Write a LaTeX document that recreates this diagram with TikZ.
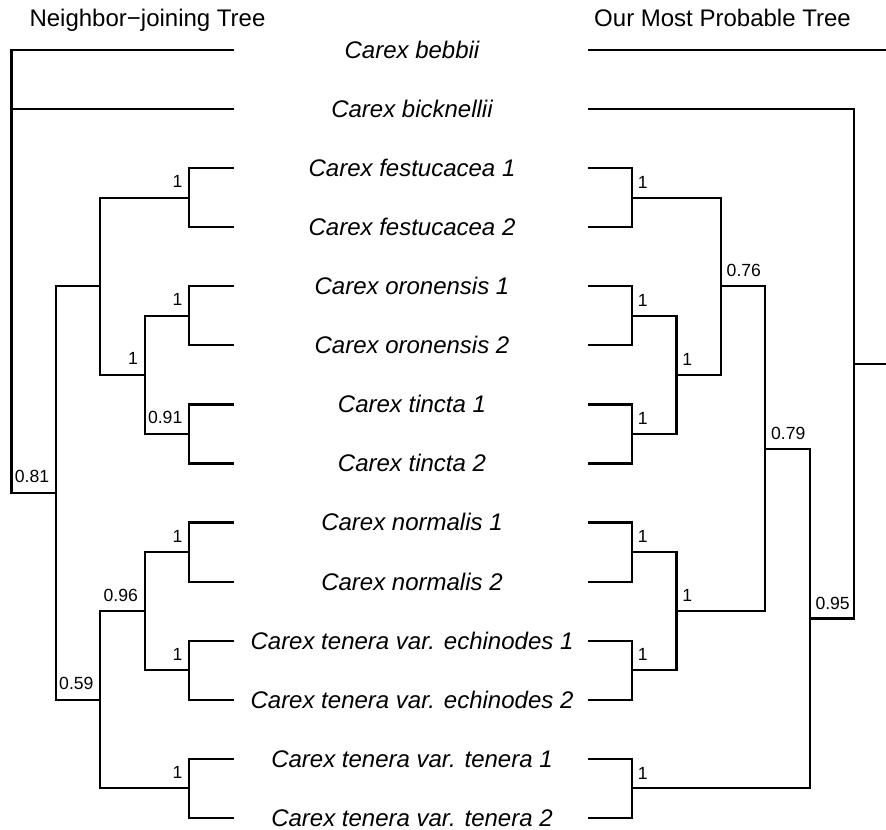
\documentclass[tikz,border=0pt]{standalone}
\usepackage{fontspec}
\setmainfont{Liberation Sans}
\usepackage{tikz}
\usetikzlibrary{calc,positioning}
\newcommand{\rowy}[1]{50+59.07*#1}
\tikzset{%
	branch/.style = {line width=1.1pt},
	taxon/.style  = {font=\fontsize{12}{14}\selectfont\itshape, anchor=base, inner sep=0pt, yshift=-4.2pt},
	title/.style  = {font=\fontsize{12}{14}\selectfont, anchor=base, inner sep=0pt},
	suppl/.style  = {font=\fontsize{8.8}{10}\selectfont, anchor=south east, inner xsep=2.8pt, inner ysep=0pt, yshift=4.4pt},
	suppr/.style  = {font=\fontsize{8.8}{10}\selectfont, anchor=south west, inner xsep=2.4pt, inner ysep=0pt, yshift=4.1pt},
}

\begin{document}
\begin{tikzpicture}[x=0.5pt,y=-0.5pt]
	\useasboundingbox (0,0) rectangle (886,829);
	\node[title] (njtitle) at (147.5,27) {Neighbor−joining Tree};
	\node[title] (mptitle) at (722.5,27) {Our Most Probable Tree};

	% taxa in the middle, branch tips on both sides
	\foreach \taxname [count=\i from 0] in {Carex bebbii, Carex bicknellii, Carex festucacea 1, Carex festucacea 2, Carex oronensis 1, Carex oronensis 2, Carex tincta 1, Carex tincta 2, Carex normalis 1, Carex normalis 2, Carex tenera var. echinodes 1, Carex tenera var. echinodes 2, Carex tenera var. tenera 1, Carex tenera var. tenera 2}{
		\node[taxon] (t\i) at (412,{\rowy{\i}}) {\taxname};
		\coordinate (L\i) at (234,{\rowy{\i}});
		\coordinate (R\i) at (588,{\rowy{\i}});
	}

	\begin{scope}[branch]
	% neighbor-joining tree (left)
	\coordinate (nF) at (189,{\rowy{2.5}});
	\coordinate (nO) at (189,{\rowy{4.5}});
	\coordinate (nT) at (189,{\rowy{6.5}});
	\coordinate (nN) at (189,{\rowy{8.5}});
	\coordinate (nE) at (189,{\rowy{10.5}});
	\coordinate (nV) at (189,{\rowy{12.5}});
	\coordinate (nOT) at (144.6,{\rowy{5.5}});
	\coordinate (nNE) at (144.6,{\rowy{9.5}});
	\coordinate (nFOT) at (100.2,{\rowy{4}});
	\coordinate (nNEV) at (100.2,{\rowy{11}});
	\coordinate (nIn) at (55.8,{\rowy{7.5}});
	\coordinate (nRoot) at (11.4,{\rowy{0}});
	\draw (L2) -| (nF) |- (L3);
	\draw (L4) -| (nO) |- (L5);
	\draw (L6) -| (nT) |- (L7);
	\draw (L8) -| (nN) |- (L9);
	\draw (L10) -| (nE) |- (L11);
	\draw (L12) -| (nV) |- (L13);
	\draw (nO) -| (nOT) |- (nT);
	\draw (nN) -| (nNE) |- (nE);
	\draw (nF) -| (nFOT) |- (nOT);
	\draw (nNE) -| (nNEV) |- (nV);
	\draw (nFOT) -| (nIn) |- (nNEV);
	\draw (L0) -| (nRoot) |- (nIn);
	\draw (L1) -- (L1 -| nRoot);
	\node[suppl] (sF) at (nF) {1};
	\node[suppl] (sO) at (nO) {1};
	\node[suppl] (sT) at (nT) {0.91};
	\node[suppl] (sN) at (nN) {1};
	\node[suppl] (sE) at (nE) {1};
	\node[suppl] (sV) at (nV) {1};
	\node[suppl] (sOT) at (nOT) {1};
	\node[suppl] (sNE) at (nNE) {0.96};
	\node[suppl] (sNEV) at (nNEV) {0.59};
	\node[suppl] (sIn) at (nIn) {0.81};

	% most probable tree (right), root lies beyond the edge
	\coordinate (mF) at (632,{\rowy{2.5}});
	\coordinate (mO) at (632,{\rowy{4.5}});
	\coordinate (mT) at (632,{\rowy{6.5}});
	\coordinate (mN) at (632,{\rowy{8.5}});
	\coordinate (mE) at (632,{\rowy{10.5}});
	\coordinate (mV) at (632,{\rowy{12.5}});
	\coordinate (mOT) at (676.4,{\rowy{5.5}});
	\coordinate (mNE) at (676.4,{\rowy{9.5}});
	\coordinate (mFOT) at (720.8,{\rowy{4}});
	\coordinate (mA) at (765.2,{\rowy{6.75}});
	\coordinate (mB) at (809.6,{\rowy{9.625}});
	\coordinate (mC) at (854,{\rowy{5.3125}});
	\coordinate (mEdge) at (886,0);
	\draw (R2) -| (mF) |- (R3);
	\draw (R4) -| (mO) |- (R5);
	\draw (R6) -| (mT) |- (R7);
	\draw (R8) -| (mN) |- (R9);
	\draw (R10) -| (mE) |- (R11);
	\draw (R12) -| (mV) |- (R13);
	\draw (mO) -| (mOT) |- (mT);
	\draw (mN) -| (mNE) |- (mE);
	\draw (mF) -| (mFOT) |- (mOT);
	\draw (mFOT) -| (mA) |- (mNE);
	\draw (mA) -| (mB) |- (mV);
	\draw (R1) -| (mC) |- (mB);
	\draw (R0) -- (R0 -| mEdge);
	\draw (mC) -- (mC -| mEdge);
	\node[suppr] (pF) at (mF) {1};
	\node[suppr] (pO) at (mO) {1};
	\node[suppr] (pT) at (mT) {1};
	\node[suppr] (pN) at (mN) {1};
	\node[suppr] (pE) at (mE) {1};
	\node[suppr] (pV) at (mV) {1};
	\node[suppr] (pOT) at (mOT) {1};
	\node[suppr] (pNE) at (mNE) {1};
	\node[suppr] (pFOT) at (mFOT) {0.76};
	\node[suppr] (pA) at (mA) {0.79};
	\node[suppr] (pB) at (mB) {0.95};
	\end{scope}
\end{tikzpicture}
\end{document}
